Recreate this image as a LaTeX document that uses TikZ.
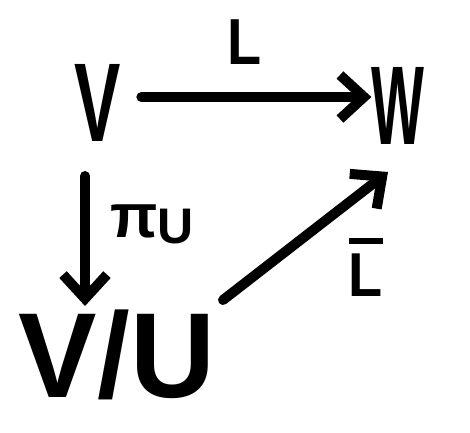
\documentclass[tikz,border=0pt]{standalone}
\usepackage{fontspec}
\setmainfont{Liberation Sans}
\usetikzlibrary{arrows.meta}
\begin{document}
\begin{tikzpicture}[x=1pt,y=-1pt,
  big/.style={font=\fontsize{112}{112}\selectfont\bfseries, inner sep=0pt},
  lab/.style={font=\fontsize{62}{62}\selectfont\bfseries, inner sep=0pt},
  arr/.style={line width=10pt, line cap=round, line join=round, -{Straight Barb[length=24pt,width=44pt]}}]
\useasboundingbox (0,0) rectangle (470,432);
\node[big] (V) at (98,103) {\scalebox{0.62}[1]{V}};
\node[big] (W) at (398,106) {\scalebox{0.5}[1]{W}};
\node[big] (VU) at (117,355) {\scalebox{1.05}[1.08]{V/U}};
\node[lab] (L) at (245,42) {\scalebox{0.9}[1.05]{L}};
\node[inner sep=0pt, font=\bfseries] (pi) at (152,224) {{\fontsize{62}{62}\selectfont π}\raisebox{-6pt}{\fontsize{50}{50}\selectfont U}};
\node[lab] (Lb) at (366,267) {\setbox0\hbox{\scalebox{0.9}[1]{L}}\vbox{\hrule width \wd0 height 6pt \kern 10pt \box0}};
\coordinate (d1) at (85,176);
\coordinate (d2) at (85,306);
\coordinate (g1) at (223,300);
\coordinate (g2) at (388,172);
\draw[arr] (V.east) ++(20,-6) coordinate (h1) -- (W.west |- h1);
\draw[arr] (d1) -- (d2);
\draw[arr] (g1) -- (g2);
\end{tikzpicture}
\end{document}
